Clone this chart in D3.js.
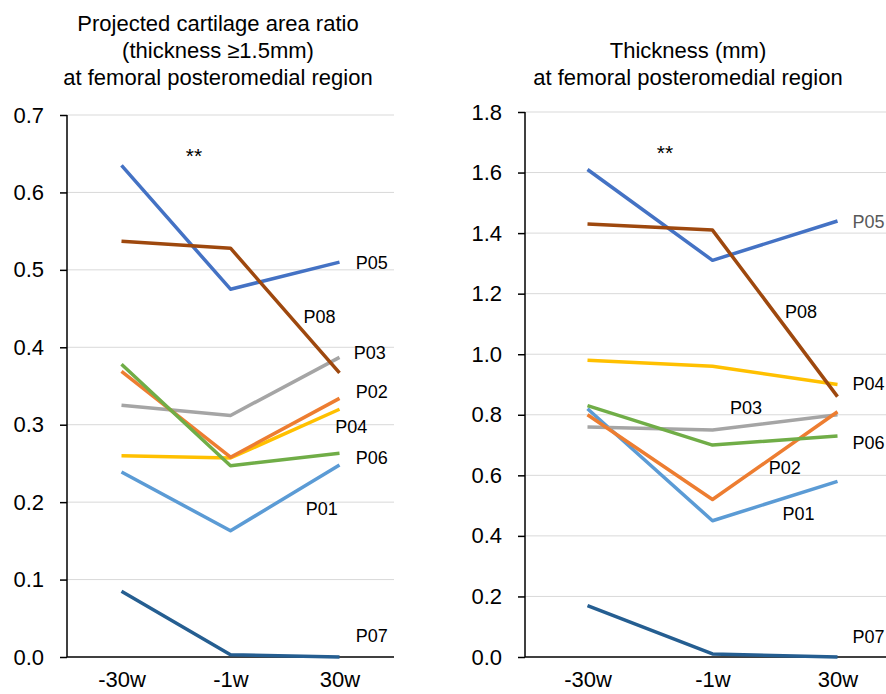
<!DOCTYPE html>
<html>
<head>
<meta charset="utf-8">
<script src="https://cdn.jsdelivr.net/npm/d3@7"></script>
<style>
  body { margin: 0; background: #fff; }
  svg { font-family: "Liberation Sans", Arial, sans-serif; }
</style>
</head>
<body>
<div class="chart"></div>
<script>
// categories (time points)
var weeks = ["-30w", "-1w", "30w"];

var patients = ["P01", "P02", "P03", "P04", "P05", "P06", "P07", "P08"];
var colors = {P01: "#5B9BD5", P02: "#ED7D31", P03: "#A5A5A5", P04: "#FFC000",
              P05: "#4472C4", P06: "#70AD47", P07: "#255E91", P08: "#9E480E"};
// draw order (later on top)
var drawOrder = ["P07", "P01", "P04", "P03", "P02", "P06", "P05", "P08"];

// projected cartilage area ratio (thickness >= 1.5mm)
var areaRatio = {
  P01: [0.239, 0.163, 0.248],
  P02: [0.369, 0.258, 0.334],
  P03: [0.325, 0.312, 0.387],
  P04: [0.260, 0.257, 0.320],
  P05: [0.635, 0.475, 0.510],
  P06: [0.378, 0.247, 0.263],
  P07: [0.085, 0.003, 0.000],
  P08: [0.537, 0.528, 0.367]
};
var areaTicks = [0, 0.1, 0.2, 0.3, 0.4, 0.5, 0.6, 0.7];

// thickness (mm)
var thickness = {
  P01: [0.82, 0.45, 0.58],
  P02: [0.80, 0.52, 0.81],
  P03: [0.76, 0.75, 0.80],
  P04: [0.98, 0.96, 0.90],
  P05: [1.61, 1.31, 1.44],
  P06: [0.83, 0.70, 0.73],
  P07: [0.17, 0.01, 0.00],
  P08: [1.43, 1.41, 0.86]
};
var thickTicks = [0, 0.2, 0.4, 0.6, 0.8, 1.0, 1.2, 1.4, 1.6, 1.8];

// label anchors in data units: [category position, value]
var areaLabels = {
  P05: [2.15, 0.509], P08: [1.67, 0.440], P03: [2.13, 0.393], P02: [2.15, 0.342],
  P04: [1.96, 0.297], P06: [2.15, 0.257], P01: [1.69, 0.191], P07: [2.15, 0.028]
};
var thickLabels = {
  P05: [2.12, 1.437], P08: [1.58, 1.139], P04: [2.12, 0.901], P03: [1.14, 0.822],
  P06: [2.12, 0.709], P02: [1.45, 0.624], P01: [1.56, 0.472], P07: [2.12, 0.066]
};

var svg = d3.select(".chart").append("svg")
    .attr("width", 886)
    .attr("height", 694);

function panel(opts) {
  var x = d3.scalePoint().domain(weeks).range([opts.left, opts.right]).padding(0.5);
  var y = d3.scaleLinear().domain([0, opts.max]).range([657, opts.top]);
  var step = x.step();
  var xPos = function(i) { return x(weeks[0]) + i * step; };

  var g = svg.append("g");

  // gridlines
  g.selectAll(".grid")
      .data(opts.ticks.slice(1))
    .enter().append("line")
      .attr("x1", opts.left).attr("x2", opts.right)
      .attr("y1", function(d) { return y(d); })
      .attr("y2", function(d) { return y(d); })
      .attr("stroke", "#d9d9d9").attr("stroke-width", 1);

  // y axis
  var ya = g.append("g")
      .attr("transform", "translate(" + opts.left + ",0)")
      .call(d3.axisLeft(y).tickValues(opts.ticks).tickSize(7).tickPadding(16)
        .tickFormat(d3.format(".1f")));
  ya.select(".domain").remove();
  ya.selectAll("line").attr("stroke", "#000").attr("stroke-width", 1.5);
  ya.selectAll("text").attr("font-size", 22).attr("fill", "#000")
      .attr("font-family", "Liberation Sans, Arial, sans-serif");
  g.append("line")
      .attr("x1", opts.left).attr("x2", opts.left)
      .attr("y1", y(opts.max)).attr("y2", y(0))
      .attr("stroke", "#000").attr("stroke-width", 1.5);

  // x axis
  var xa = g.append("g")
      .attr("transform", "translate(0," + y(0) + ")")
      .call(d3.axisBottom(x).tickSize(0).tickPadding(14));
  xa.select(".domain").remove();
  xa.selectAll("text").attr("font-size", 22).attr("fill", "#000")
      .attr("font-family", "Liberation Sans, Arial, sans-serif");
  g.append("line")
      .attr("x1", opts.left).attr("x2", opts.right)
      .attr("y1", y(0)).attr("y2", y(0))
      .attr("stroke", "#000").attr("stroke-width", 1.5);

  var line = d3.line()
      .x(function(d, i) { return x(weeks[i]); })
      .y(function(d) { return y(d); });

  g.selectAll(".series")
      .data(drawOrder)
    .enter().append("path")
      .attr("class", "series")
      .attr("d", function(p) { return line(opts.data[p]); })
      .attr("fill", "none")
      .attr("stroke", function(p) { return colors[p]; })
      .attr("stroke-width", 3.5)
      .attr("stroke-linejoin", "round");

  g.selectAll(".lbl")
      .data(patients)
    .enter().append("text")
      .attr("class", "lbl")
      .attr("x", function(p) { return xPos(opts.labels[p][0]); })
      .attr("y", function(p) { return y(opts.labels[p][1]); })
      .attr("dy", "0.35em")
      .attr("font-size", 18)
      .attr("fill", function(p) { return opts.grayLabel === p ? "#595959" : "#000"; })
      .text(function(p) { return p; });

  // significance mark
  g.append("text")
      .attr("x", opts.starX)
      .attr("y", y(opts.starV))
      .attr("text-anchor", "middle")
      .attr("font-size", 21)
      .text("**");

  // title
  var t = svg.append("text")
      .attr("text-anchor", "middle")
      .attr("font-size", 22)
      .attr("fill", "#000");
  opts.title.forEach(function(s, i) {
    t.append("tspan")
      .attr("x", opts.titleX)
      .attr("y", opts.titleY + i * 27)
      .text(s);
  });
}

panel({
  left: 67, right: 394, top: 115, max: 0.7, ticks: areaTicks,
  data: areaRatio, labels: areaLabels,
  starX: 194, starV: 0.638,
  title: ["Projected cartilage area ratio", "(thickness \u22651.5mm)", "at femoral posteromedial region"],
  titleX: 218, titleY: 31
});

panel({
  left: 525, right: 900, top: 112, max: 1.8, ticks: thickTicks,
  data: thickness, labels: thickLabels, grayLabel: "P05",
  starX: 665, starV: 1.64,
  title: ["Thickness (mm)", "at femoral posteromedial region"],
  titleX: 688, titleY: 58
});
</script>
</body>
</html>
